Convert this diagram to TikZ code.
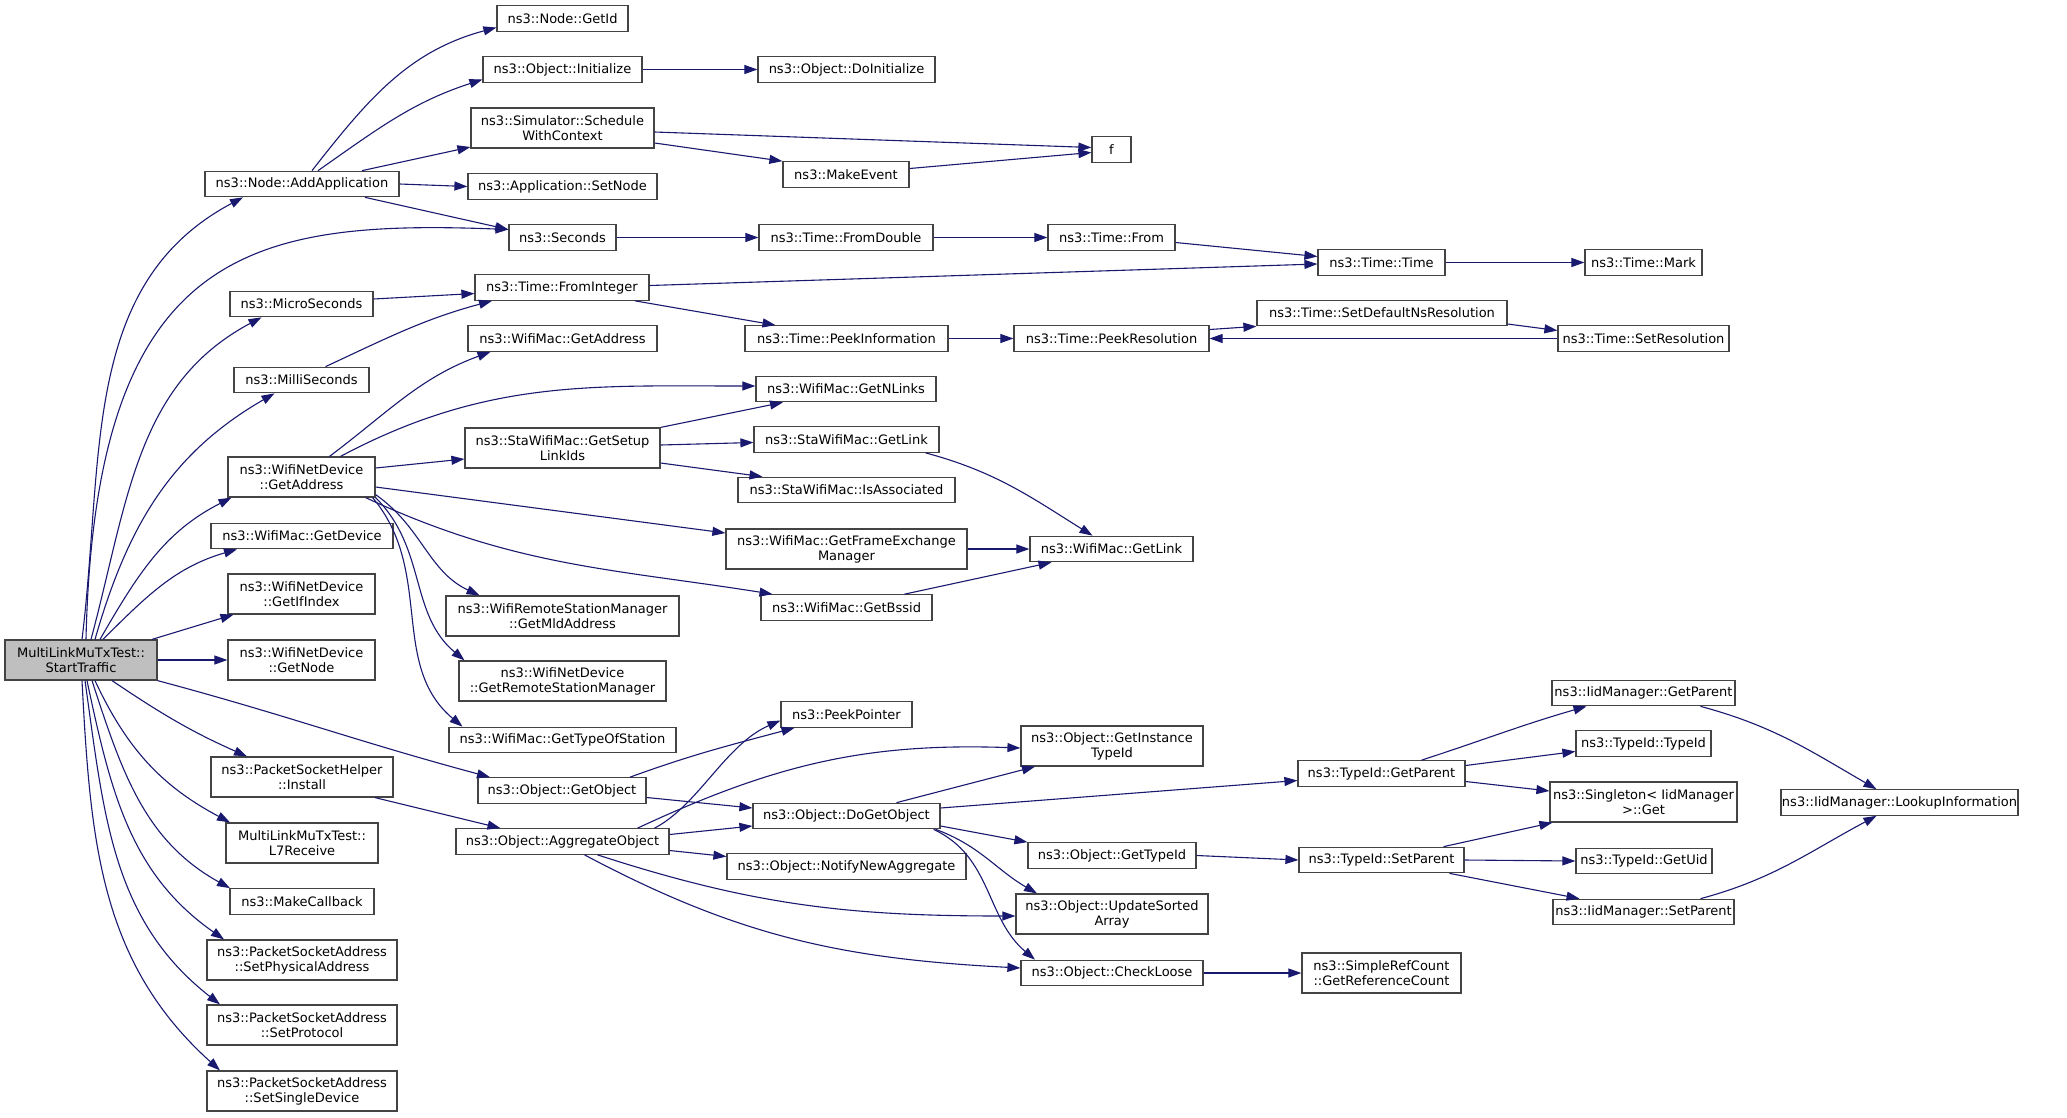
\documentclass[tikz,border=0pt]{standalone}
\usepackage{fontspec}
\setmainfont{DejaVu Sans}
\usetikzlibrary{arrows.meta}
\definecolor{callblue}{HTML}{191970}
\definecolor{boxgray}{HTML}{444444}
\definecolor{stgray}{HTML}{BFBFBF}
\newcommand{\fnsize}{\fontsize{13}{15}\selectfont}
\tikzset{
  fn/.style={draw=boxgray, line width=1.2pt, fill=white, inner sep=1pt, align=center, font=\fnsize},
  oneline/.style={minimum height=25.5pt},
  twoline/.style={minimum height=40pt},
  callarrow/.style={draw=callblue, line width=1.1pt, -{Triangle[length=13pt,width=9pt]}},
}

\begin{document}
\begin{tikzpicture}[x=1pt, y=1pt]
        \fill [white] (0,0) rectangle (2067,-1117);
        \useasboundingbox (0,0) rectangle (2067,-1117);

        % caller
        \node [fn, twoline, fill=stgray, minimum width=152pt] (st) at (81,-660) {MultiLinkMuTxTest::\\StartTraffic};

        % first column of callees
        \node [fn, oneline, minimum width=194pt] (addapp) at (302,-184) {ns3::Node::AddApplication};
        \node [fn, oneline, minimum width=143pt] (micro) at (301.5,-304) {ns3::MicroSeconds};
        \node [fn, oneline, minimum width=135pt] (milli) at (301.5,-380) {ns3::MilliSeconds};
        \node [fn, twoline, minimum width=147pt] (devaddr) at (301.5,-477) {ns3::WifiNetDevice\\::GetAddress};
        \node [fn, oneline, minimum width=182pt] (getdev) at (302,-536) {ns3::WifiMac::GetDevice};
        \node [fn, twoline, minimum width=147pt] (ifindex) at (301.5,-594) {ns3::WifiNetDevice\\::GetIfIndex};
        \node [fn, twoline, minimum width=147pt] (getnode) at (301.5,-660) {ns3::WifiNetDevice\\::GetNode};
        \node [fn, twoline, minimum width=182pt] (install) at (302,-777) {ns3::PacketSocketHelper\\::Install};
        \node [fn, twoline, minimum width=152pt] (l7) at (302,-843) {MultiLinkMuTxTest::\\L7Receive};
        \node [fn, oneline, minimum width=144pt] (mkcb) at (302,-901.5) {ns3::MakeCallback};
        \node [fn, twoline, minimum width=190pt] (setphys) at (302,-960) {ns3::PacketSocketAddress\\::SetPhysicalAddress};
        \node [fn, twoline, minimum width=190pt] (setproto) at (302,-1025) {ns3::PacketSocketAddress\\::SetProtocol};
        \node [fn, twoline, minimum width=190pt] (setsingle) at (302,-1091) {ns3::PacketSocketAddress\\::SetSingleDevice};

        % second column
        \node [fn, oneline, minimum width=131pt] (getid) at (562.5,-18.5) {ns3::Node::GetId};
        \node [fn, oneline, minimum width=159pt] (init) at (562.5,-69.5) {ns3::Object::Initialize};
        \node [fn, twoline, minimum width=183pt] (sched) at (562.5,-128) {ns3::Simulator::Schedule\\WithContext};
        \node [fn, oneline, minimum width=189pt] (setnode) at (562.5,-186.5) {ns3::Application::SetNode};
        \node [fn, oneline, minimum width=107pt] (seconds) at (562.5,-237.5) {ns3::Seconds};
        \node [fn, oneline, minimum width=174pt] (fromint) at (562,-287.5) {ns3::Time::FromInteger};
        \node [fn, oneline, minimum width=189pt] (macaddr) at (562.5,-338.5) {ns3::WifiMac::GetAddress};
        \node [fn, twoline, minimum width=195pt] (setup) at (562.5,-448) {ns3::StaWifiMac::GetSetup\\LinkIds};
        \node [fn, twoline, minimum width=233pt] (mld) at (562.5,-616) {ns3::WifiRemoteStationManager\\::GetMldAddress};
        \node [fn, twoline, minimum width=207pt] (rsm) at (562.5,-681) {ns3::WifiNetDevice\\::GetRemoteStationManager};
        \node [fn, oneline, minimum width=227pt] (typeofst) at (562.5,-740) {ns3::WifiMac::GetTypeOfStation};
        \node [fn, oneline, minimum width=168pt] (getobj) at (562,-790.5) {ns3::Object::GetObject};
        \node [fn, oneline, minimum width=213pt] (aggr) at (562.5,-841.5) {ns3::Object::AggregateObject};

        % third column
        \node [fn, oneline, minimum width=177pt] (doinit) at (846.5,-69.5) {ns3::Object::DoInitialize};
        \node [fn, oneline, minimum width=126pt] (mkevent) at (846,-174.5) {ns3::MakeEvent};
        \node [fn, oneline, minimum width=174pt] (fromdbl) at (846,-237.5) {ns3::Time::FromDouble};
        \node [fn, oneline, minimum width=203pt] (peekinfo) at (846.5,-338.5) {ns3::Time::PeekInformation};
        \node [fn, oneline, minimum width=180pt] (nlinks) at (846,-389) {ns3::WifiMac::GetNLinks};
        \node [fn, oneline, minimum width=185pt] (stalink) at (846.5,-439.5) {ns3::StaWifiMac::GetLink};
        \node [fn, oneline, minimum width=217pt] (assoc) at (846.5,-490) {ns3::StaWifiMac::IsAssociated};
        \node [fn, twoline, minimum width=241pt] (fem) at (846.5,-549) {ns3::WifiMac::GetFrameExchange\\Manager};
        \node [fn, oneline, minimum width=171pt] (bssid) at (846.5,-607.5) {ns3::WifiMac::GetBssid};
        \node [fn, oneline, minimum width=131pt] (peekptr) at (846.5,-714.5) {ns3::PeekPointer};
        \node [fn, oneline, minimum width=187pt] (dogetobj) at (846.5,-816) {ns3::Object::DoGetObject};
        \node [fn, oneline, minimum width=239pt] (notify) at (846.5,-866.5) {ns3::Object::NotifyNewAggregate};

        % fourth column
        \node [fn, oneline, minimum width=39pt] (f) at (1111.5,-149.5) {f};
        \node [fn, oneline, minimum width=127pt] (from) at (1111.5,-237.5) {ns3::Time::From};
        \node [fn, oneline, minimum width=195pt] (peekres) at (1111.5,-338.5) {ns3::Time::PeekResolution};
        \node [fn, oneline, minimum width=163pt] (maclink) at (1111.5,-549) {ns3::WifiMac::GetLink};
        \node [fn, twoline, minimum width=182pt] (insttid) at (1112,-746) {ns3::Object::GetInstance\\TypeId};
        \node [fn, oneline, minimum width=168pt] (objtid) at (1112,-855.5) {ns3::Object::GetTypeId};
        \node [fn, twoline, minimum width=192pt] (sorted) at (1112,-914) {ns3::Object::UpdateSorted\\Array};
        \node [fn, oneline, minimum width=182pt] (loose) at (1112,-973) {ns3::Object::CheckLoose};

        % fifth column
        \node [fn, oneline, minimum width=127pt] (time) at (1381.5,-262.5) {ns3::Time::Time};
        \node [fn, oneline, minimum width=250pt] (setdef) at (1382,-313) {ns3::Time::SetDefaultNsResolution};
        \node [fn, oneline, minimum width=167pt] (tidparent) at (1381.5,-773.5) {ns3::TypeId::GetParent};
        \node [fn, oneline, minimum width=165pt] (tidsetparent) at (1381.5,-860) {ns3::TypeId::SetParent};
        \node [fn, twoline, minimum width=159pt] (refcount) at (1381.5,-973) {ns3::SimpleRefCount\\::GetReferenceCount};

        % sixth column
        \node [fn, oneline, minimum width=117pt] (mark) at (1643.5,-262.5) {ns3::Time::Mark};
        \node [fn, oneline, minimum width=171pt] (setres) at (1643.5,-338.5) {ns3::Time::SetResolution};
        \node [fn, oneline, minimum width=183pt] (iidparent) at (1643.5,-693) {ns3::IidManager::GetParent};
        \node [fn, oneline, minimum width=135pt] (tidtid) at (1643.5,-743.5) {ns3::TypeId::TypeId};
        \node [fn, twoline, minimum width=187pt] (singleton) at (1643.5,-802) {ns3::Singleton< IidManager\\ >::Get};
        \node [fn, oneline, minimum width=136pt] (getuid) at (1644,-861) {ns3::TypeId::GetUid};
        \node [fn, oneline, minimum width=181pt] (iidsetparent) at (1643.5,-912) {ns3::IidManager::SetParent};

        % last column
        \node [fn, oneline, minimum width=237pt] (lookup) at (1899.5,-802.5) {ns3::IidManager::LookupInformation};

        % calls from StartTraffic
        \draw [callarrow] ([xshift=1pt]st.north) to[out=83,in=208] ([xshift=-59pt]addapp.south);
        \draw [callarrow] ([xshift=5pt]st.north) .. controls +(9,390) and +(-259,10) .. ([yshift=8pt]seconds.west);
        \draw [callarrow] ([xshift=10pt]st.north) to[out=75,in=208] ([xshift=-40pt]micro.south);
        \draw [callarrow] ([xshift=14pt]st.north) to[out=74,in=210] ([xshift=-27pt]milli.south);
        \draw [callarrow] ([xshift=19pt]st.north) to[out=60,in=207] ([xshift=-70pt]devaddr.south);
        \draw [callarrow] ([xshift=22pt]st.north) to[out=45,in=196] ([xshift=-65pt]getdev.south);
        \draw [callarrow] ([xshift=71pt]st.north) -- ([xshift=-68pt]ifindex.south);
        \draw [callarrow] (st.east) -- (getnode.west);
        \draw [callarrow] ([xshift=31pt]st.south) to[out=-34,in=156] ([xshift=-55pt]install.north);
        \draw [callarrow] (st.south east) to[out=-15,in=165] ([xshift=-72pt]getobj.north);
        \draw [callarrow] ([xshift=14pt]st.south) to[out=-65,in=152] ([xshift=-72pt]l7.north);
        \draw [callarrow] ([xshift=11pt]st.south) to[out=-72,in=151] ([xshift=-72pt]mkcb.north);
        \draw [callarrow] ([xshift=6pt]st.south) to[out=-78,in=145] ([xshift=-78pt]setphys.north);
        \draw [callarrow] ([xshift=4pt]st.south) to[out=-82,in=142] ([xshift=-82pt]setproto.north);
        \draw [callarrow] ([xshift=1pt]st.south) to[out=-87,in=138] ([xshift=-82pt]setsingle.north);

        % calls from AddApplication
        \draw [callarrow] ([xshift=10pt]addapp.north) to[out=52,in=195] ([yshift=-9pt]getid.west);
        \draw [callarrow] ([xshift=16pt]addapp.north) to[out=35,in=198] ([yshift=-10pt]init.west);
        \draw [callarrow] ([xshift=60pt]addapp.north) -- ([yshift=-19pt]sched.west);
        \draw [callarrow] (addapp.east) -- (setnode.west);
        \draw [callarrow] ([xshift=63pt]addapp.south) -- ([yshift=8pt]seconds.west);

        % scheduling and time conversion
        \draw [callarrow] (init.east) -- (doinit.west);
        \draw [callarrow] ([yshift=-4pt]sched.east) -- ([yshift=2pt]f.west);
        \draw [callarrow] ([yshift=-15pt]sched.east) -- (mkevent.north west);
        \draw [callarrow] ([yshift=6pt]mkevent.east) -- ([yshift=-3pt]f.west);
        \draw [callarrow] (seconds.east) -- (fromdbl.west);
        \draw [callarrow] (fromdbl.east) -- (from.west);
        \draw [callarrow] ([yshift=-5pt]from.east) -- ([yshift=6pt]time.west);
        \draw [callarrow] ([yshift=2pt]fromint.east) -- ([yshift=-1.5pt]time.west);
        \draw [callarrow] (time.east) -- (mark.west);
        \draw [callarrow] ([yshift=5pt]micro.east) -- ([yshift=-6pt]fromint.west);
        \draw [callarrow] ([xshift=24pt]milli.north) to[out=25,in=195] ([xshift=-70pt]fromint.south);
        \draw [callarrow] ([xshift=73pt]fromint.south) -- ([xshift=-71pt]peekinfo.north);
        \draw [callarrow] (peekinfo.east) -- (peekres.west);
        \draw [callarrow] ([yshift=9pt]peekres.east) -- (setdef.south west);
        \draw [callarrow] ([yshift=-11pt]setdef.east) -- ([yshift=8pt]setres.west);
        \draw [callarrow] (setres.west) -- (peekres.east);

        % calls from WifiNetDevice::GetAddress
        \draw [callarrow] ([xshift=28pt]devaddr.north) to[out=37,in=200] ([xshift=-72pt]macaddr.south);
        \draw [callarrow] ([xshift=39pt]devaddr.north) to[out=28,in=180] ([yshift=3pt]nlinks.west);
        \draw [callarrow] ([yshift=9pt]devaddr.east) -- ([yshift=-11pt]setup.west);
        \draw [callarrow] ([yshift=-10pt]devaddr.east) -- ([yshift=16pt]fem.west);
        \draw [callarrow] ([xshift=-10pt]devaddr.south east) to[out=-25,in=171] ([xshift=-74pt]bssid.north);
        \draw [callarrow] ([yshift=3pt]devaddr.south east) to[out=-35,in=155] ([xshift=-83pt]mld.north);
        \draw [callarrow] (devaddr.south east) to[out=-45,in=140] ([xshift=-98pt]rsm.north);
        \draw [callarrow] ([xshift=-3pt]devaddr.south east) to[out=-50,in=140] ([xshift=-100pt]typeofst.north);

        % link lookups
        \draw [callarrow] (setup.north east) -- ([xshift=-63pt]nlinks.south);
        \draw [callarrow] ([yshift=3pt]setup.east) -- ([yshift=-3pt]stalink.west);
        \draw [callarrow] ([yshift=-15pt]setup.east) -- ([xshift=-84pt]assoc.north);
        \draw [callarrow] ([xshift=79pt]stalink.south) to[out=-15,in=148] ([xshift=-19pt]maclink.north);
        \draw [callarrow] (fem.east) -- (maclink.west);
        \draw [callarrow] ([xshift=58pt]bssid.north) -- ([xshift=-60pt]maclink.south);

        % aggregation
        \draw [callarrow] ([xshift=73pt]install.south) -- ([xshift=-62pt]aggr.north);
        \draw [callarrow] ([xshift=68pt]getobj.north) to[out=20,in=195] ([xshift=-52pt]peekptr.south);
        \draw [callarrow] ([yshift=-7pt]getobj.east) -- ([yshift=8pt]dogetobj.west);
        \draw [callarrow] ([xshift=92pt]aggr.north) .. controls +(44,23) and +(-55,-24) .. ([yshift=-6pt]peekptr.west);
        \draw [callarrow] ([xshift=75pt]aggr.north) to[out=25,in=178] ([yshift=-2pt]insttid.west);
        \draw [callarrow] ([yshift=7pt]aggr.east) -- ([yshift=-10pt]dogetobj.west);
        \draw [callarrow] ([yshift=-9pt]aggr.east) -- ([yshift=10pt]notify.west);
        \draw [callarrow] ([xshift=35pt]aggr.south) to[out=-18,in=180] ([yshift=-2pt]sorted.west);
        \draw [callarrow] ([xshift=22pt]aggr.south) to[out=-28,in=177] ([yshift=5pt]loose.west);

        % DoGetObject
        \draw [callarrow] ([xshift=50pt]dogetobj.north) -- ([xshift=-77pt]insttid.south);
        \draw [callarrow] ([yshift=8pt]dogetobj.east) -- ([yshift=-7pt]tidparent.west);
        \draw [callarrow] ([yshift=-10pt]dogetobj.east) -- (objtid.north west);
        \draw [callarrow] ([xshift=-5pt]dogetobj.south east) to[out=-20,in=150] ([xshift=-75pt]sorted.north);
        \draw [callarrow] ([xshift=-7pt]dogetobj.south east) to[out=-25,in=140] ([xshift=-77pt]loose.north);
        \draw [callarrow] (objtid.east) -- (tidsetparent.west);
        \draw [callarrow] (loose.east) -- (refcount.west);

        % TypeId and IidManager
        \draw [callarrow] ([xshift=40pt]tidparent.north) to[out=18,in=196] ([xshift=-57pt]iidparent.south);
        \draw [callarrow] ([yshift=8pt]tidparent.east) -- ([yshift=-8pt]tidtid.west);
        \draw [callarrow] ([yshift=-8pt]tidparent.east) -- ([yshift=11pt]singleton.west);
        \draw [callarrow] ([xshift=62pt]tidsetparent.north) -- ([xshift=3pt]singleton.south west);
        \draw [callarrow] (tidsetparent.east) -- (getuid.west);
        \draw [callarrow] ([xshift=68pt]tidsetparent.south) -- ([xshift=-64pt]iidsetparent.north);
        \draw [callarrow] ([xshift=57pt]iidparent.south) to[out=-15,in=150] ([xshift=-23pt]lookup.north);
        \draw [callarrow] ([xshift=57pt]iidsetparent.north) to[out=15,in=208] ([xshift=-23pt]lookup.south);
\end{tikzpicture}
\end{document}
